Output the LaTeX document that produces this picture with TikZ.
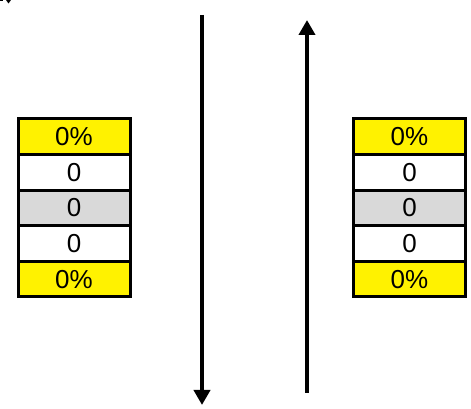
\documentclass[tikz,border=0pt]{standalone}
\usepackage{fontspec}
\setmainfont{Liberation Sans}
\usetikzlibrary{positioning,arrows.meta}

\tikzset{
  cell/.style={draw,line width=3pt,minimum width=112pt,minimum height=35.6pt,
    inner sep=0pt,outer sep=0pt,font=\fontsize{26}{26}\selectfont},
  pct/.style={cell,fill=yellow},
  mid/.style={cell,fill=black!15},
  flow/.style={line width=3.8pt,-{Triangle[length=15pt,width=16pt]}}
}

\begin{document}
\begin{tikzpicture}[x=1pt,y=1pt]
  \useasboundingbox (0,0) rectangle (471,409);

  % clipped mark in the corner
  \fill (6,409) -- (11,409) -- (8.5,405.5) -- cycle;
  \fill (0,409) rectangle (2.5,407.5);

  \foreach \side/\x in {l/74,r/409.5}{
    \node[pct] (\side1) at (\x,272.2) {0\%};
    \node[cell,below=0pt of \side1] (\side2) {0};
    \node[mid,below=0pt of \side2] (\side3) {0};
    \node[cell,below=0pt of \side3] (\side4) {0};
    \node[pct,below=0pt of \side4] (\side5) {0\%};
  }

  \coordinate (downtop) at (202,394);
  \coordinate (downend) at (202,4);
  \coordinate (upbot) at (307,16);
  \coordinate (upend) at (307,389);

  \draw[flow] (downtop)--(downend);
  \draw[flow] (upbot)--(upend);
\end{tikzpicture}
\end{document}
